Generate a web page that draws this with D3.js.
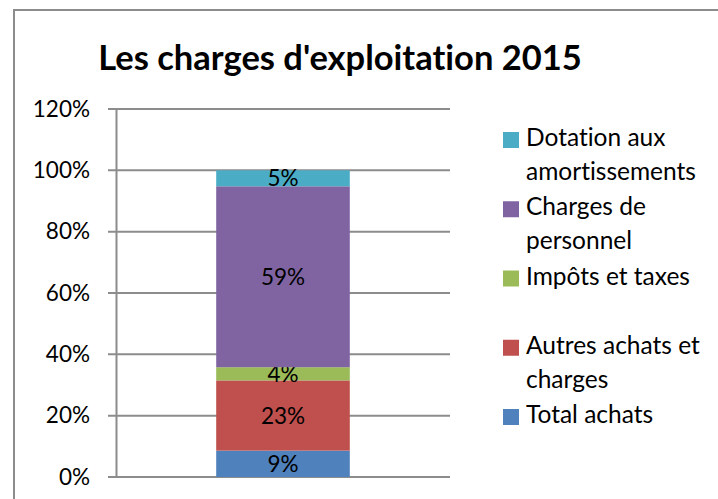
<!DOCTYPE html>
<html>
<head>
<meta charset="utf-8">
<script src="https://cdn.jsdelivr.net/npm/d3@7"></script>
<style>
    body { margin: 0; background: #fff; }
    svg { display: block; font-family: Lato, "Open Sans", sans-serif; font-variant-ligatures: none; }
</style>
</head>
<body>
<svg id="chart"></svg>
<script>
// series, bottom to top of the stack
const categories = ["Total achats", "Autres achats et charges", "Impôts et taxes", "Charges de personnel", "Dotation aux amortissements"];
const values = [0.086, 0.229, 0.043, 0.590, 0.052];
const colors = ["#4F81BD", "#C0504D", "#9BBB59", "#8064A2", "#4BACC6"];
// legend wraps the long names on two lines
const legendLines = [["Total achats"], ["Autres achats et", "charges"], ["Impôts et taxes", ""], ["Charges de", "personnel"], ["Dotation aux", "amortissements"]];
const yTicks = [0, 0.2, 0.4, 0.6, 0.8, 1.0, 1.2];
const title = "Les charges d'exploitation 2015";

const width = 718, height = 499;
const plot = { left: 116, right: 450, top: 109, bottom: 477 };

const svg = d3.select("#chart")
    .attr("width", width)
    .attr("height", height);

// outer chart border (runs off the right and bottom edges)
svg.append("rect")
    .attr("x", 14).attr("y", 10)
    .attr("width", 720).attr("height", 500)
    .attr("fill", "none")
    .attr("stroke", "#8c8c8c")
    .attr("stroke-width", 2);

svg.append("text")
    .attr("x", 340).attr("y", 70)
    .attr("text-anchor", "middle")
    .attr("font-size", "34.5px")
    .attr("font-weight", "bold")
    .attr("fill", "#000")
    .text(title);

const y = d3.scaleLinear()
    .domain([0, 1.2])
    .range([plot.bottom, plot.top]);

const x = d3.scaleBand()
    .domain(["2015"])
    .range([plot.left, plot.right])
    .paddingInner(0)
    .paddingOuter(0.75);

// gridlines
svg.append("g")
    .selectAll("line")
    .data(yTicks)
    .enter().append("line")
    .attr("x1", plot.left - 8)
    .attr("x2", plot.right)
    .attr("y1", d => y(d))
    .attr("y2", d => y(d))
    .attr("stroke", "#8c8c8c")
    .attr("stroke-width", 2);

const yAxis = d3.axisLeft(y)
    .tickValues(yTicks)
    .tickFormat(d3.format(".0%"))
    .tickSize(0)
    .tickPadding(26);

const axisG = svg.append("g")
    .attr("transform", `translate(${plot.left},0)`)
    .call(yAxis);
axisG.select(".domain")
    .attr("stroke", "#8c8c8c")
    .attr("stroke-width", 2);
axisG.selectAll("text")
    .attr("font-size", "22.5px")
    .attr("font-family", "Lato, sans-serif")
    .attr("fill", "#000");

// stack the segments
const stacked = [];
let acc = 0;
values.forEach((v, i) => {
    stacked.push({ name: categories[i], value: v, y0: acc, y1: acc + v, color: colors[i] });
    acc += v;
});

const seg = svg.append("g")
    .selectAll("g")
    .data(stacked)
    .enter().append("g");

seg.append("rect")
    .attr("x", x("2015"))
    .attr("width", x.bandwidth())
    .attr("y", d => y(d.y1))
    .attr("height", d => y(d.y0) - y(d.y1))
    .attr("fill", d => d.color);

seg.append("text")
    .attr("x", x("2015") + x.bandwidth() / 2)
    .attr("y", d => (y(d.y0) + y(d.y1)) / 2)
    .attr("dy", "0.36em")
    .attr("text-anchor", "middle")
    .attr("font-size", "22.5px")
    .attr("fill", "#000")
    .text(d => d3.format(".0%")(d.value));

// legend, top entry is the top of the stack
const legendOrder = d3.range(categories.length).reverse();
const legend = svg.append("g")
    .selectAll("g")
    .data(legendOrder)
    .enter().append("g")
    .attr("transform", (d, i) => `translate(503,${146 + i * 69.25})`);

legend.append("rect")
    .attr("x", 0).attr("y", -14)
    .attr("width", 16).attr("height", 16)
    .attr("fill", d => colors[d]);

legend.append("text")
    .attr("x", 23)
    .attr("font-size", "24.5px")
    .attr("fill", "#000")
    .selectAll("tspan")
    .data(d => legendLines[d])
    .enter().append("tspan")
    .attr("x", 23)
    .attr("y", (d, i) => i * 34)
    .text(d => d);
</script>
</body>
</html>
